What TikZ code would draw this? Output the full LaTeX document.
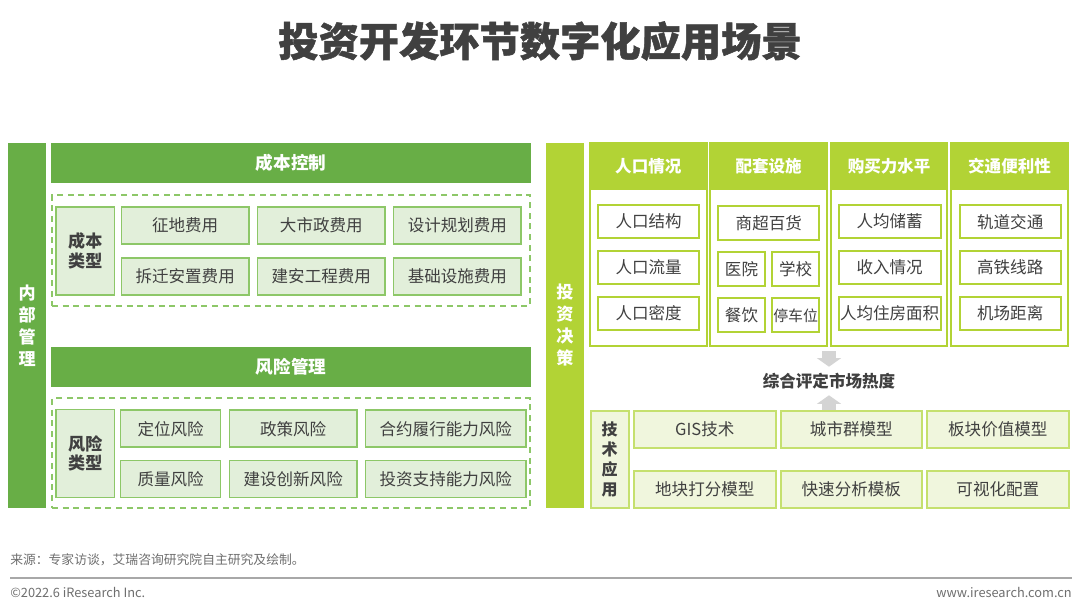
\documentclass[tikz,border=0pt]{standalone}
\usepackage{fontspec}
\setmainfont{Noto Sans CJK SC}
\newfontfamily\titlefont{Noto Sans CJK SC}[BoldFeatures={FakeBold=1.2}]
\usetikzlibrary{arrows.meta}

\definecolor{dkgreen}{RGB}{104,174,70}
\definecolor{ltgreen}{RGB}{226,239,218}
\definecolor{edgegreen}{RGB}{141,199,104}
\definecolor{lime}{RGB}{178,211,53}
\definecolor{ltlime}{RGB}{240,246,221}
\definecolor{edgelime}{RGB}{197,224,110}
\definecolor{txtgray}{RGB}{64,64,64}
\definecolor{arrowgray}{RGB}{212,212,212}
\definecolor{notegray}{RGB}{110,110,110}

% one pixel of the page
\newcommand*{\px}{0.75pt}

\begin{document}
\begin{tikzpicture}
[
	x=\px,
	y=-\px,
	every node/.style={text=txtgray,inner sep=0pt},
	sidebar/.style={fill=#1,minimum width={38*\px},minimum height={365*\px},text=white,align=center,font=\bfseries\fontsize{12.8}{16.5}\selectfont},
	head/.style={fill=dkgreen,minimum width={480*\px},minimum height={40*\px},text=white,font=\bfseries\fontsize{13.2}{16}\selectfont},
	dashbox/.style={draw=edgegreen,line width=1.4pt,dash pattern=on 4.5pt off 3.5pt,minimum width={478*\px},minimum height={110*\px}},
	typebox/.style={fill=ltgreen,draw=edgegreen,line width=1.1pt,minimum width={58.5*\px},minimum height={88*\px},align=center,font=\bfseries\fontsize{12.8}{14.5}\selectfont},
	costbox/.style={fill=ltgreen,draw=edgegreen,line width=1.1pt,minimum height={37*\px},font=\fontsize{12.4}{14}\selectfont},
	colbox/.style={fill=white,draw=lime,line width=1.5pt,minimum width={116.5*\px},minimum height={203*\px}},
	colhead/.style={fill=lime,minimum width={116.5*\px},minimum height={48*\px},text=white,font=\bfseries\fontsize{12.4}{14}\selectfont},
	itembox/.style={fill=white,draw=lime,line width=1.5pt,minimum height={33.5*\px},font=\fontsize{12.4}{14}\selectfont},
	techtype/.style={fill=ltlime,draw=edgelime,line width=1.5pt,minimum width={38*\px},minimum height={97*\px},align=center,font=\bfseries\fontsize{12}{15}\selectfont},
	techbox/.style={fill=ltlime,draw=edgelime,line width=1.5pt,minimum width={141.5*\px},minimum height={37.3*\px},font=\fontsize{12.4}{14}\selectfont},
	bigarrow/.style={draw=arrowgray,line width={14*\px},-{Triangle[width=18pt,length=6.5pt]}}
]

	\useasboundingbox (0,0) rectangle (1080,613);

	% title
	\node[font=\titlefont\bfseries\fontsize{30.2}{32}\selectfont] (title) at (540,41) {投资开发环节数字化应用场景};

	% internal management
	\node[sidebar=dkgreen] (inner) at (27.25,325.5) {内\\部\\管\\理};

	% cost control
	\node[head] (cost) at (291,163.2) {成本控制};
	\node[dashbox,minimum height={111*\px}] (costset) at (291,250.5) {};
	\node[typebox] (costtype) at (85.25,251) {成本\\类型};
	\foreach \t [count=\i] in {征地费用,大市政费用,设计规划费用} {
		\node[costbox,minimum width={127.6*\px}] (costa\i) at ({185.2+136.1*(\i-1)},225.3) {\t};
	}
	\foreach \t [count=\i] in {拆迁安置费用,建安工程费用,基础设施费用} {
		\node[costbox,minimum width={127.6*\px}] (costb\i) at ({185.2+136.1*(\i-1)},276.5) {\t};
	}

	% risk management
	\node[head] (risk) at (291,367) {风险管理};
	\node[dashbox] (riskset) at (291,453.3) {};
	\node[typebox] (risktype) at (85.25,453.5) {风险\\类型};
	\foreach \x/\w/\t [count=\i] in {170.7/100/定位风险,293.2/127.7/政策风险,445.8/160.5/合约履行能力风险} {
		\node[costbox,minimum width={\w*\px}] (riska\i) at (\x,428.7) {\t};
	}
	\foreach \x/\w/\t [count=\i] in {170.7/100/质量风险,293.2/127.7/建设创新风险,445.8/160.5/投资支持能力风险} {
		\node[costbox,minimum width={\w*\px}] (riskb\i) at (\x,478.9) {\t};
	}

	% investment decision
	\node[sidebar=lime] (invest) at (565,325.5) {投\\资\\决\\策};

	% four factor columns
	\foreach \t [count=\i] in {人口情况,配套设施,购买力水平,交通便利性} {
		\node[colbox] (col\i) at ({648.3+120.4*(\i-1)},244.5) {};
		\node[colhead,anchor=north] (colhead\i) at (col\i.north) {\t};
	}

	% population
	\foreach \t [count=\j] in {人口结构,人口流量,人口密度} {
		\node[itembox,minimum width={101.3*\px}] (pop\j) at (648.6,{221.7+45.8*(\j-1)}) {\t};
	}

	% facilities
	\node[itembox,minimum width={101*\px},minimum height={34*\px}] (mall) at (768.8,223) {商超百货};
	\node[itembox,minimum width={46.5*\px},minimum height={34*\px}] (hospital) at (741.5,269.3) {医院};
	\node[itembox,minimum width={47.3*\px},minimum height={34*\px}] (school) at (795.7,269.3) {学校};
	\node[itembox,minimum width={46.5*\px},minimum height={34*\px}] (food) at (741.5,315.3) {餐饮};
	\node[itembox,minimum width={47.3*\px},minimum height={34*\px},font=\fontsize{11.2}{13}\selectfont] (parking) at (795.7,315.3) {停车位};

	% purchasing power
	\foreach \t [count=\j] in {人均储蓄,收入情况,人均住房面积} {
		\node[itembox,minimum width={102*\px}] (buy\j) at (889.6,{221.7+45.8*(\j-1)}) {\t};
	}

	% traffic
	\foreach \t [count=\j] in {轨道交通,高铁线路,机场距离} {
		\node[itembox,minimum width={101*\px}] (traffic\j) at (1010.2,{221.7+45.8*(\j-1)}) {\t};
	}

	% market heat
	\node[font=\bfseries\fontsize{12.4}{14}\selectfont,minimum height={28*\px}] (heat) at (829,381) {综合评定市场热度};

	% technology
	\node[techtype] (techtype) at (609.6,459.6) {技\\术\\应\\用};
	\foreach \t [count=\i] in {GIS技术,城市群模型,板块价值模型} {
		\node[techbox] (techa\i) at ({704.8+146.5*(\i-1)},429.6) {\t};
	}
	\foreach \t [count=\i] in {地块打分模型,快速分析模板,可视化配置} {
		\node[techbox] (techb\i) at ({704.8+146.5*(\i-1)},489.6) {\t};
	}

	% arrows into the heat
	\draw[bigarrow,shorten <={4*\px}] (heat |- col2.south) -- (heat.north);
	\draw[bigarrow] (heat |- techa2.north) -- (heat.south);

	% footer
	\node[anchor=west,text=notegray,font=\fontsize{9.6}{12}\selectfont] (source) at (10,560) {来源：专家访谈，艾瑞咨询研究院自主研究及绘制。};
	\draw[notegray!60,line width={1.5*\px}] (10,578) -- (1072,578);
	\node[anchor=west,text=notegray,font=\fontsize{9.6}{12}\selectfont] (copyright) at (10,592) {©2022.6 iResearch Inc.};
	\node[anchor=east,text=notegray,font=\fontsize{9.6}{12}\selectfont] (website) at (1072,592) {www.iresearch.com.cn};

\end{tikzpicture}
\end{document}
